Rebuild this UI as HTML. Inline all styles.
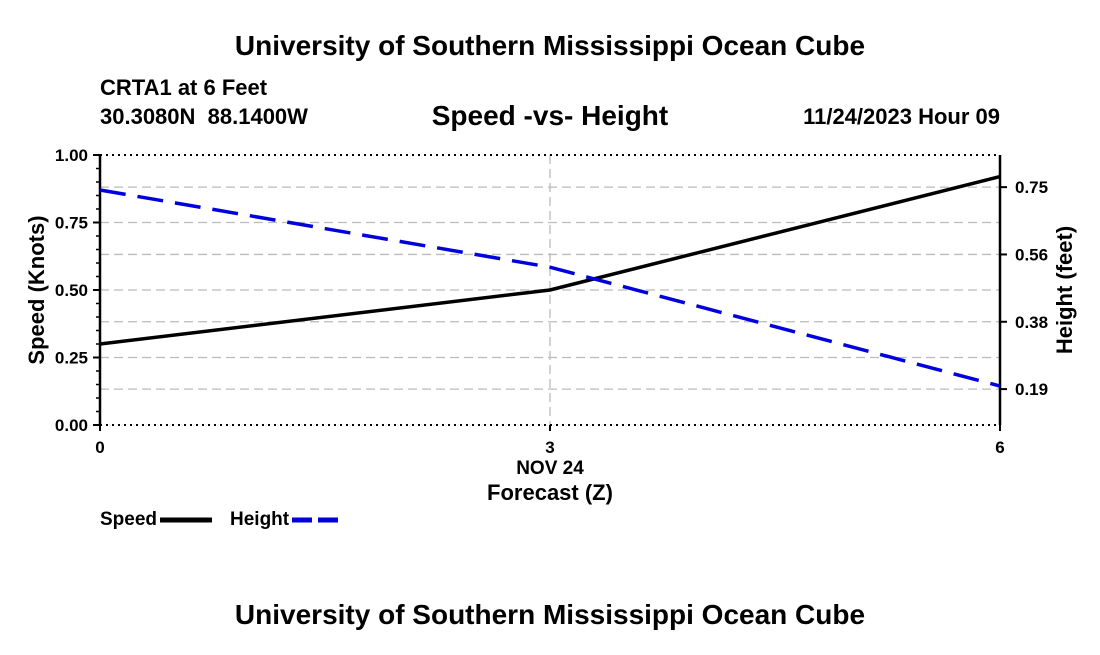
<!DOCTYPE html>
<html><head><meta charset="utf-8"><style>
body{margin:0;background:#fff;font-family:"Liberation Sans",Arial,sans-serif}
svg text{font-family:"Liberation Sans",Arial,sans-serif;font-weight:bold;fill:#000;white-space:pre}
</style></head><body>
<svg id="chart" width="1100" height="650">
<text x="550" y="55" text-anchor="middle" font-size="28">University of Southern Mississippi Ocean Cube</text>
<text x="100" y="95" font-size="22">CRTA1 at 6 Feet</text>
<text x="100" y="124" font-size="22" xml:space="preserve">30.3080N  88.1400W</text>
<text x="550" y="125" text-anchor="middle" font-size="28">Speed -vs- Height</text>
<text x="1000" y="124" text-anchor="end" font-size="22">11/24/2023 Hour 09</text>
<g id="grid"></g><g id="axes"></g><g id="series"></g>
<text x="550" y="474" text-anchor="middle" font-size="19">NOV 24</text>
<text x="550" y="500" text-anchor="middle" font-size="22">Forecast (Z)</text>
<text transform="translate(44,290) rotate(-90)" text-anchor="middle" font-size="22">Speed (Knots)</text>
<text transform="translate(1072,290) rotate(-90)" text-anchor="middle" font-size="22">Height (feet)</text>
<g><text x="100" y="525" font-size="19">Speed</text><line x1="160" y1="520" x2="212" y2="520" stroke="#000" stroke-width="5"/></g>
<g><text x="230" y="525" font-size="19">Height</text><line x1="292" y1="520" x2="344" y2="520" stroke="#0000dd" stroke-width="5" stroke-dasharray="20,6"/></g>
<text x="550" y="624" text-anchor="middle" font-size="28">University of Southern Mississippi Ocean Cube</text>
</svg>
<script>
const hours=[0,3,6];
const speed=[0.30,0.50,0.92];
const height=[0.742,0.527,0.196];
const leftTicks=[0,0.25,0.5,0.75,1.0];
const leftLabels=["0.00","0.25","0.50","0.75","1.00"];
const rightTicks=[0.1875,0.375,0.5625,0.75];
const rightLabels=["0.19","0.38","0.56","0.75"];
const xTicks=[0,3,6];
const L=100,R=1000,T=155,B=425;
const xs=h=>L+(h-0)/6*(R-L);
const ys=v=>B-v*(B-T);
const hMin=0.0875,hMax=0.8395;
const yh=v=>B-(v-hMin)/(hMax-hMin)*(B-T);
const NS="http://www.w3.org/2000/svg";
function mk(p,t,a){const e=document.createElementNS(NS,t);for(const k in a)e.setAttribute(k,a[k]);document.getElementById(p).appendChild(e);return e;}
leftTicks.forEach((v,i)=>{
 if(v>0&&v<1){const g=mk('grid','line',{x1:L,x2:R,y1:ys(v),y2:ys(v),stroke:'#bbb','stroke-width':1.3,'stroke-dasharray':'9,5'});
 
 }
 const t=mk('axes','line',{x1:L-7,x2:L,y1:ys(v),y2:ys(v),stroke:'#000','stroke-width':2});
 
 
 const tx=mk('axes','text',{x:L-12,y:ys(v)+6,'text-anchor':'end','font-size':17});tx.textContent=leftLabels[i];
 
 
});
for(let v=0.05;v<1;v+=0.05){if(Math.abs(v*4-Math.round(v*4))<1e-6)continue;
 const m=mk('axes','line',{x1:L-4,x2:L,y1:ys(v),y2:ys(v),stroke:'#000','stroke-width':1.5});
 
 }
rightTicks.forEach((v,i)=>{
 const g=mk('grid','line',{x1:L,x2:R,y1:yh(v),y2:yh(v),stroke:'#bbb','stroke-width':1.3,'stroke-dasharray':'9,5'});
 
 
 const t=mk('axes','line',{x1:R,x2:R+7,y1:yh(v),y2:yh(v),stroke:'#000','stroke-width':2});
 
 
 const tx=mk('axes','text',{x:R+15,y:yh(v)+6,'font-size':17});tx.textContent=rightLabels[i];
 
 
});
xTicks.forEach(h=>{
 if(h>0&&h<6){const g=mk('grid','line',{x1:xs(h),x2:xs(h),y1:T,y2:B,stroke:'#bbb','stroke-width':1.3,'stroke-dasharray':'9,5'});
 
 }
 const t=mk('axes','line',{x1:xs(h),x2:xs(h),y1:B,y2:B+6,stroke:'#000','stroke-width':2});
 
 
 const tx=mk('axes','text',{x:xs(h),y:B+28,'text-anchor':'middle','font-size':17});tx.textContent=h;
 
 
});
[T,B].forEach(y=>{const b=mk('axes','line',{x1:L,x2:R,y1:y,y2:y,stroke:'#000','stroke-width':2,'stroke-dasharray':'2,4'});
 
 });
[L,R].forEach(x=>{const b=mk('axes','line',{x1:x,x2:x,y1:T,y2:B,stroke:'#000','stroke-width':2.5});
 
 });
const sp=mk('series','polyline',{points:hours.map((h,i)=>xs(h)+','+ys(speed[i])).join(' '),fill:'none',stroke:'#000','stroke-width':3.5});


const hl=mk('series','polyline',{points:hours.map((h,i)=>xs(h)+','+yh(height[i])).join(' '),fill:'none',stroke:'#0000dd','stroke-width':3.5,'stroke-dasharray':'26,12'});


</script>
</body></html>
